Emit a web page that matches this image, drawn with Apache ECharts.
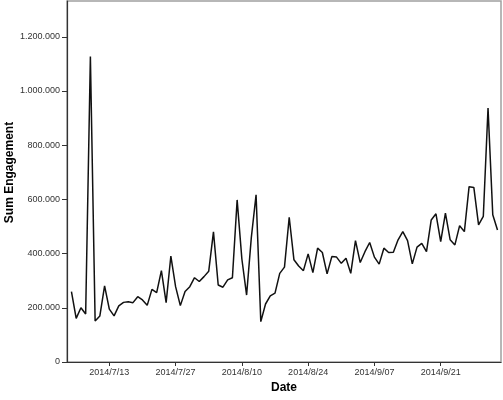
<!DOCTYPE html>
<html>
<head>
<meta charset="utf-8">
<script src="https://cdn.jsdelivr.net/npm/echarts@6/dist/echarts.min.js"></script>
<style>html,body{margin:0;padding:0;background:#fff;}#c{width:503px;height:400px;}</style>
</head>
<body>
<div id="c"></div>
<script>
const dates = [
'2014-07-05','2014-07-06','2014-07-07','2014-07-08','2014-07-09','2014-07-10','2014-07-11','2014-07-12','2014-07-13','2014-07-14',
'2014-07-15','2014-07-16','2014-07-17','2014-07-18','2014-07-19','2014-07-20','2014-07-21','2014-07-22','2014-07-23','2014-07-24',
'2014-07-25','2014-07-26','2014-07-27','2014-07-28','2014-07-29','2014-07-30','2014-07-31',
'2014-08-01','2014-08-02','2014-08-03','2014-08-04','2014-08-05','2014-08-06','2014-08-07','2014-08-08','2014-08-09','2014-08-10',
'2014-08-11','2014-08-12','2014-08-13','2014-08-14','2014-08-15','2014-08-16','2014-08-17','2014-08-18','2014-08-19','2014-08-20',
'2014-08-21','2014-08-22','2014-08-23','2014-08-24','2014-08-25','2014-08-26','2014-08-27','2014-08-28','2014-08-29','2014-08-30','2014-08-31',
'2014-09-01','2014-09-02','2014-09-03','2014-09-04','2014-09-05','2014-09-06','2014-09-07','2014-09-08','2014-09-09','2014-09-10',
'2014-09-11','2014-09-12','2014-09-13','2014-09-14','2014-09-15','2014-09-16','2014-09-17','2014-09-18','2014-09-19','2014-09-20',
'2014-09-21','2014-09-22','2014-09-23','2014-09-24','2014-09-25','2014-09-26','2014-09-27','2014-09-28','2014-09-29','2014-09-30',
'2014-10-01','2014-10-02','2014-10-03'
];
const engagement = [
260000,161000,200000,177000,1127000,151000,170000,281000,195000,170000,
207000,220000,222000,219000,241000,229000,209000,268000,256000,337000,
219000,391000,278000,208000,260000,278000,311000,
297000,315000,335000,480000,284000,276000,303000,311000,598000,380000,
247000,460000,617000,149000,214000,244000,254000,327000,350000,534000,
377000,354000,337000,399000,330000,420000,404000,325000,389000,387000,364000,
383000,327000,448000,367000,407000,441000,387000,361000,420000,404000,
405000,451000,481000,448000,362000,424000,438000,407000,524000,547000,
444000,549000,451000,432000,503000,481000,647000,644000,506000,537000,
937000,543000,487000
];
const xTickLabels = ['2014/7/13','2014/7/27','2014/8/10','2014/8/24','2014/9/07','2014/9/21'];
const yTickValues = [0,200000,400000,600000,800000,1000000,1200000];

const DAY = 86400000;
function dayNum(s){ const p = s.split(/[-\/]/).map(Number); return Math.round(Date.UTC(p[0], p[1]-1, p[2]) / DAY); }
const xTickValues = xTickLabels.map(dayNum);
const seriesData = dates.map((d,i)=>[dayNum(d), engagement[i]]);

function fmtThousands(v){ return String(v).replace(/\B(?=(\d{3})+(?!\d))/g,'.'); }

const chart = echarts.init(document.getElementById('c'), null, {renderer:'canvas'});
chart.setOption({
  animation:false,
  backgroundColor:'#fff',
  textStyle:{fontFamily:'Liberation Sans, Arial, sans-serif'},
  grid:{left:67,right:2,top:1,bottom:38,show:true,borderColor:'#a0a0a0',borderWidth:1.5,containLabel:false,outerBoundsMode:'none'},
  xAxis:{
    type:'value',
    min:dayNum('2014-07-04')+0.06,
    max:dayNum('2014-10-03')+0.74,
    name:'Date',
    nameLocation:'middle',
    nameGap:20,
    nameMoveOverlap:false,
    nameTextStyle:{fontSize:12,fontWeight:'bold',color:'#000',fontFamily:'Liberation Sans, Arial, sans-serif'},
    axisLine:{show:true,lineStyle:{color:'#333',width:1.2}},
    axisTick:{show:true,inside:false,length:4,lineStyle:{color:'#333'},customValues:xTickValues},
    axisLabel:{customValues:xTickValues,fontSize:9,color:'#333',margin:6,
      formatter:function(v){ const i = xTickValues.indexOf(Math.round(v)); return i>=0 ? xTickLabels[i] : ''; }},
    splitLine:{show:false}
  },
  yAxis:{
    type:'value',
    min:0,
    max:1332000,
    name:'Sum Engagement',
    nameLocation:'middle',
    nameGap:51,
    nameMoveOverlap:false,
    nameTextStyle:{fontSize:12,fontWeight:'bold',color:'#000',fontFamily:'Liberation Sans, Arial, sans-serif',padding:[0,0,0,18]},
    axisLine:{show:true,lineStyle:{color:'#333',width:1.2}},
    axisTick:{show:true,inside:false,length:5,lineStyle:{color:'#333'},customValues:yTickValues},
    axisLabel:{customValues:yTickValues,fontSize:9,color:'#333',margin:7,formatter:function(v){return fmtThousands(v);}},
    splitLine:{show:false}
  },
  series:[{
    type:'line',
    data:seriesData,
    showSymbol:false,
    symbol:'none',
    smooth:false,
    lineStyle:{color:'#111',width:1.5},
    silent:true
  }]
});
</script>
</body>
</html>
